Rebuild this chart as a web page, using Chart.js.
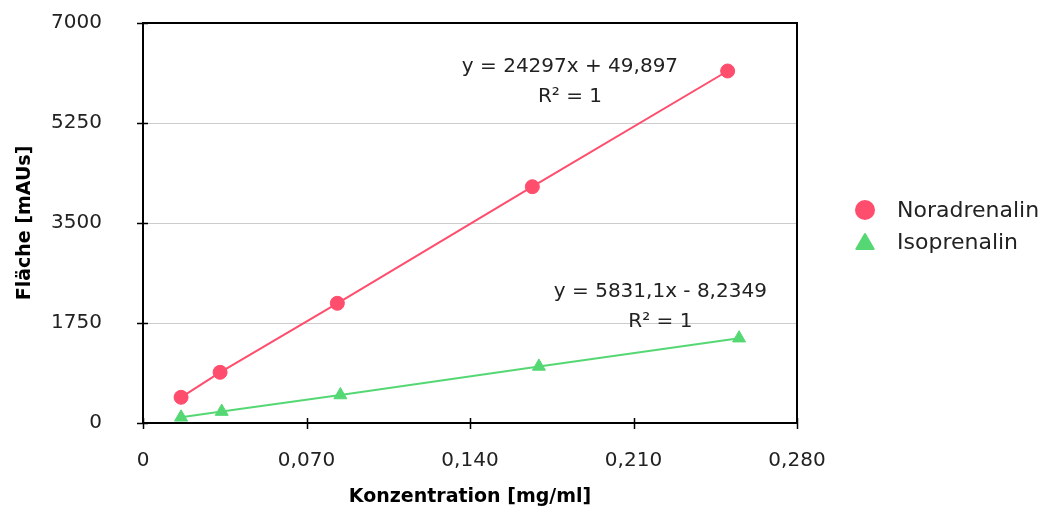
<!DOCTYPE html>
<html>
<head>
<meta charset="utf-8">
<script src="https://cdn.jsdelivr.net/npm/chart.js@4.4.1/dist/chart.umd.min.js"></script>
<style>
  html, body { margin: 0; padding: 0; background: #fff; }
  #wrap { width: 1050px; height: 512px; position: relative; }
</style>
</head>
<body>
<div id="wrap"><canvas id="c"></canvas></div>
<script>
// ---- data ----
const seriesNames = ['Noradrenalin', 'Isoprenalin'];
const concNor = [0.0163, 0.0330, 0.0832, 0.1667, 0.2503];
const areaNor = [450, 887, 2095, 4135, 6160];
const concIso = [0.0163, 0.0337, 0.0845, 0.1695, 0.2552];
const areaIso = [100, 200, 490, 990, 1485];
const xTickValues = [0, 0.07, 0.14, 0.21, 0.28];
const xTickLabels = ['0', '0,070', '0,140', '0,210', '0,280'];
const yTickValues = [0, 1750, 3500, 5250, 7000];
const yTickLabels = ['0', '1750', '3500', '5250', '7000'];
const xTitle = 'Konzentration [mg/ml]';
const yTitle = 'Fläche [mAUs]';
const trendTexts = [
  ['y = 24297x + 49,897', 'R² = 1'],
  ['y = 5831,1x - 8,2349', 'R² = 1']
];
// anchor (data units) of each trendline label: [x, y line1, y line2]
const trendAnchorX = [0.1828, 0.2215];
const trendAnchorY1 = [6230, 2290];
const trendAnchorY2 = [5705, 1765];

const colNor = '#FF4D6D';
const colIso = '#55D874';
const FONT = '"DejaVu Sans", "Liberation Sans", sans-serif';
const TEXT = '#222222';

const toPts = (xs, ys) => xs.map((x, i) => ({x: x, y: ys[i]}));

function drawMarker(ctx, style, x, y, r, color) {
  ctx.save();
  ctx.fillStyle = color;
  ctx.strokeStyle = color;
  ctx.beginPath();
  if (style === 'triangle') {
    let rad = 0;
    ctx.moveTo(x + Math.sin(rad) * r, y - Math.cos(rad) * r);
    rad += 2 * Math.PI / 3;
    ctx.lineTo(x + Math.sin(rad) * r, y - Math.cos(rad) * r);
    rad += 2 * Math.PI / 3;
    ctx.lineTo(x + Math.sin(rad) * r, y - Math.cos(rad) * r);
    ctx.closePath();
    ctx.lineJoin = 'round';
    ctx.lineWidth = 2;
    ctx.fill();
    ctx.stroke();
  } else {
    ctx.arc(x, y, r, 0, Math.PI * 2);
    ctx.fill();
  }
  ctx.restore();
}

const framePlugin = {
  id: 'frame',
  beforeDatasetsDraw(chart) {
    const {ctx, chartArea: a, scales} = chart;
    ctx.save();
    ctx.strokeStyle = '#000';
    ctx.lineWidth = 2;
    ctx.strokeRect(a.left, a.top, a.right - a.left, a.bottom - a.top);
    ctx.lineWidth = 1.5;
    ctx.beginPath();
    scales.y.ticks.forEach(t => {
      const py = Math.round(scales.y.getPixelForValue(t.value)) + 0.5;
      ctx.moveTo(a.left - 6, py); ctx.lineTo(a.left + 5, py);
    });
    scales.x.ticks.forEach(t => {
      const px = Math.round(scales.x.getPixelForValue(t.value)) + 0.5;
      ctx.moveTo(px, a.bottom - 5); ctx.lineTo(px, a.bottom + 6);
    });
    ctx.stroke();
    ctx.restore();
  },
  afterDraw(chart) {
    const {ctx, scales} = chart;
    ctx.save();
    ctx.fillStyle = TEXT;
    ctx.font = '20px ' + FONT;
    ctx.textAlign = 'center';
    ctx.textBaseline = 'middle';
    trendTexts.forEach((lines, i) => {
      const px = scales.x.getPixelForValue(trendAnchorX[i]);
      ctx.fillText(lines[0], px, scales.y.getPixelForValue(trendAnchorY1[i]));
      ctx.fillText(lines[1], px, scales.y.getPixelForValue(trendAnchorY2[i]));
    });
    // legend
    ctx.font = '22px ' + FONT;
    ctx.textAlign = 'left';
    chart.data.datasets.forEach((ds, i) => {
      const y = 210 + i * 32;
      drawMarker(ctx, ds.pointStyle, 865, y + (ds.pointStyle === 'triangle' ? 2 : 0), 10, ds.borderColor);
      ctx.fillStyle = TEXT;
      ctx.fillText(ds.label, 897, y + 1);
    });
    ctx.restore();
  }
};

new Chart(document.getElementById('c'), {
  type: 'scatter',
  data: {
    datasets: [
      {
        label: seriesNames[0],
        data: toPts(concNor, areaNor),
        showLine: true,
        borderColor: colNor,
        backgroundColor: colNor,
        borderWidth: 2,
        pointStyle: 'circle',
        pointRadius: 7,
        pointBorderWidth: 1,
        pointHoverRadius: 7
      },
      {
        label: seriesNames[1],
        data: toPts(concIso, areaIso),
        showLine: true,
        borderColor: colIso,
        backgroundColor: colIso,
        borderWidth: 2,
        pointStyle: 'triangle',
        pointRadius: 7.5,
        pointBorderWidth: 1,
        pointHoverRadius: 7.5
      }
    ]
  },
  options: {
    responsive: true,
    maintainAspectRatio: false,
    animation: false,
    layout: { padding: { top: 23, right: 253, left: 0, bottom: 0 } },
    plugins: {
      legend: { display: false },
      tooltip: { enabled: false }
    },
    scales: {
      x: {
        type: 'linear',
        min: 0, max: 0.28,
        afterBuildTicks(scale) { scale.ticks = xTickValues.map(v => ({value: v})); },
        afterFit(scale) { scale.height = 89; },
        grid: { display: false, drawTicks: false },
        border: { display: false },
        ticks: {
          padding: 26,
          color: TEXT,
          font: { family: FONT, size: 20 },
          callback: (v, i) => xTickLabels[i]
        },
        title: {
          display: true,
          text: xTitle,
          color: '#000',
          font: { family: FONT, size: 19, weight: 'bold' },
          padding: { top: 0, bottom: 4 }
        }
      },
      y: {
        type: 'linear',
        min: 0, max: 7000,
        afterBuildTicks(scale) { scale.ticks = yTickValues.map(v => ({value: v})); },
        afterFit(scale) { scale.width = 143; },
        grid: {
          drawTicks: true,
          tickLength: 36,
          tickColor: 'rgba(0,0,0,0)',
          color: ctx => (ctx.tick && (ctx.tick.value === 0 || ctx.tick.value === 7000)) ? 'rgba(0,0,0,0)' : '#cccccc',
          lineWidth: 1
        },
        border: { display: false },
        ticks: {
          padding: 5,
          color: TEXT,
          font: { family: FONT, size: 20 },
          callback: (v, i) => yTickLabels[i]
        },
        title: {
          display: true,
          text: yTitle,
          color: '#000',
          font: { family: FONT, size: 19, weight: 'bold' },
          padding: { top: 14, bottom: 0 }
        }
      }
    }
  },
  plugins: [framePlugin]
});
</script>
</body>
</html>
